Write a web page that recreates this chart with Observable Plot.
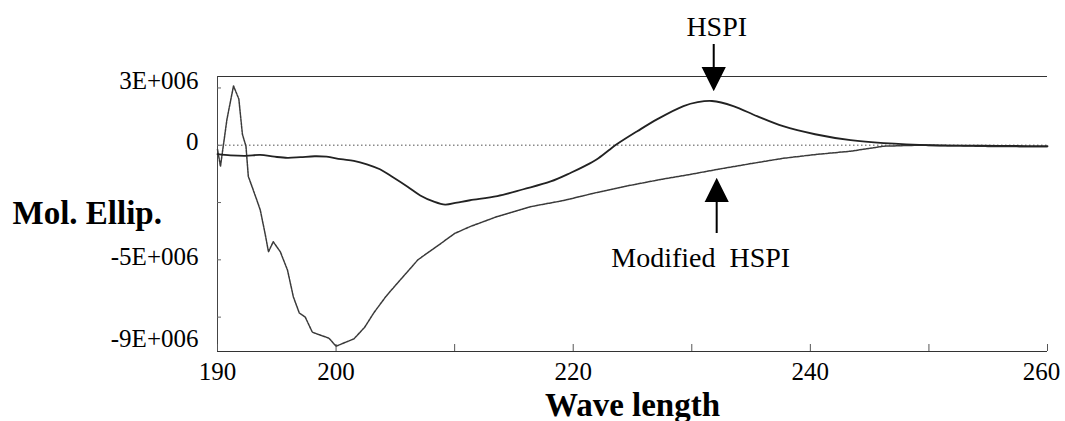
<!DOCTYPE html>
<html><head><meta charset="utf-8">
<script src="https://cdn.jsdelivr.net/npm/d3@7"></script>
<script src="https://cdn.jsdelivr.net/npm/@observablehq/plot@0.6"></script>
<style>body{margin:0;background:#fff;} svg text{white-space:pre;}</style>
</head><body><div id="chart"></div>
<script>
// HSPI (solid curve)
const wlHSPI = [190.0,191.1,192.4,193.6,194.8,195.9,197.0,198.2,199.2,200.4,201.5,202.6,203.7,204.8,206.0,207.1,208.2,209.2,210.2,211.3,213.6,215.8,218.1,219.8,221.0,222.0,223.0,223.7,225.4,227.1,229.3,230.5,231.7,233.5,235.5,237.7,240.4,243.4,246.2,250.4,254.3,257.0,260.0];
const ellipHSPI = [-0.39e6,-0.44e6,-0.46e6,-0.42e6,-0.50e6,-0.55e6,-0.52e6,-0.48e6,-0.50e6,-0.61e6,-0.68e6,-0.83e6,-1.05e6,-1.40e6,-1.80e6,-2.19e6,-2.45e6,-2.59e6,-2.50e6,-2.40e6,-2.22e6,-1.92e6,-1.58e6,-1.20e6,-0.90e6,-0.61e6,-0.22e6,0.05e6,0.61e6,1.14e6,1.71e6,1.88e6,1.93e6,1.71e6,1.27e6,0.83e6,0.48e6,0.22e6,0.09e6,0.0,-0.02e6,-0.03e6,-0.04e6];
// Modified HSPI (dotted curve)
const wlMod = [190.0,190.25,190.8,191.35,191.8,192.1,192.4,192.6,193.0,193.6,194.0,194.3,194.7,195.3,195.9,196.4,196.9,197.4,198.0,198.7,199.4,200.0,200.6,201.5,202.4,203.2,204.2,205.2,206.9,208.8,210.0,211.3,213.6,216.4,219.2,222.0,224.8,227.4,229.8,232.2,235.0,237.7,240.5,243.4,246.2,249.0,252.0,255.0,260.0];
const ellipMod = [-0.18e6,-0.92e6,1.14e6,2.59e6,2.02e6,0.48e6,-0.04e6,-1.36e6,-1.93e6,-2.81e6,-3.82e6,-4.65e6,-4.21e6,-4.65e6,-5.44e6,-6.62e6,-7.32e6,-7.50e6,-8.16e6,-8.29e6,-8.42e6,-8.77e6,-8.64e6,-8.45e6,-7.95e6,-7.30e6,-6.60e6,-6.00e6,-5.00e6,-4.30e6,-3.85e6,-3.55e6,-3.11e6,-2.68e6,-2.41e6,-2.06e6,-1.75e6,-1.49e6,-1.28e6,-1.05e6,-0.80e6,-0.57e6,-0.40e6,-0.26e6,-0.04e6,0.0,-0.02e6,-0.05e6,-0.07e6];

const xTickLabels = [190,200,220,240];
const xTickLast = [260];
const xTicksAll = [190,200,210,220,230,240,250,260];
const yTicksAll = [2.5e6,0,-2.5e6,-5e6,-7.5e6];
const annotWl = [231.85, 232.1];
const annotEllip = [2.45e6, -1.52e6];
const annotText = ["HSPI", "Modified  HSPI"];

const hspi = wlHSPI.map((w,i)=>({w, v: ellipHSPI[i]}));
const mod = wlMod.map((w,i)=>({w, v: ellipMod[i]}));
const annots = annotWl.map((w,i)=>({w, v: annotEllip[i], t: annotText[i]}));

const fmt = d => d === 0 ? "0" : (d < 0 ? "-" : "") + Math.abs(d/1e6) + "E+006";
const serif = "'Liberation Serif', 'Times New Roman', serif";

const arrowShape = {
  draw(context, l) {
    const h = 21, w = 10.5;
    context.moveTo(0, 0);
    context.lineTo(0, -l + h);
    context.moveTo(-w, -l + h);
    context.lineTo(0, -l);
    context.lineTo(w, -l + h);
    context.closePath();
  }
};

const yLabelAxis = (vals, dy) => Plot.axisY({ticks: vals, tickSize: 0, tickPadding: 19, tickFormat: fmt, dy, fontSize: 25, fontFamily: serif, fill: "#000", label: null});

const chart = Plot.plot({
  width: 1065, height: 421,
  marginTop: 76, marginBottom: 70, marginLeft: 217, marginRight: 18,
  style: {background: "#fff", color: "#000", overflow: "visible"},
  x: {domain: [190, 260]},
  y: {domain: [-9e6, 3e6]},
  marks: [
    Plot.ruleY([0], {stroke: "#8a8a8a", strokeWidth: 1.6, strokeDasharray: "1.5,2.5"}),
    Plot.ruleY([3e6], {stroke: "#333", strokeWidth: 1.2}),
    Plot.ruleY([-9e6], {stroke: "#333", strokeWidth: 1.2}),
    Plot.ruleX([190], {stroke: "#444", strokeWidth: 1}),
    Plot.axisX({ticks: xTicksAll, tickSize: -7, tickFormat: () => "", stroke: "#555", label: null}),
    Plot.axisY({ticks: yTicksAll, tickSize: -4, tickFormat: () => "", stroke: "#666", label: null}),
    Plot.axisX({ticks: xTickLabels, tickSize: 0, tickPadding: 11, fontSize: 25, fontFamily: serif, fill: "#000", label: null}),
    Plot.axisX({ticks: xTickLast, tickSize: 0, tickPadding: 11, dx: -6, fontSize: 25, fontFamily: serif, fill: "#000", label: null}),
    yLabelAxis([3e6], 4),
    yLabelAxis([0, -5e6], -3),
    yLabelAxis([-9e6], -13),
    Plot.line(mod, {x: "w", y: "v", stroke: "#3a3a3a", strokeWidth: 1.5, strokeDasharray: "2.5,1"}),
    Plot.line(hspi, {x: "w", y: "v", stroke: "#222", strokeWidth: 1.8, curve: "catmull-rom"}),
    Plot.vector([annots[0]], {x: "w", y: "v", length: 45, rotate: 180, anchor: "end", shape: arrowShape, fill: "#000", stroke: "#000", strokeWidth: 2, strokeLinecap: "butt", strokeLinejoin: "miter"}),
    Plot.vector([annots[1]], {x: "w", y: "v", length: 53, rotate: 0, anchor: "end", shape: arrowShape, fill: "#000", stroke: "#000", strokeWidth: 2, strokeLinecap: "butt", strokeLinejoin: "miter"}),
    Plot.text([annots[0]], {x: "w", y: "v", text: "t", dy: -53, dx: 3, lineAnchor: "bottom", fontSize: 28, fontFamily: serif, fill: "#000"}),
    Plot.text([annots[1]], {x: "w", y: "v", text: "t", dy: 87, dx: -16, lineAnchor: "bottom", fontSize: 28, fontFamily: serif, fill: "#000"}),
    Plot.text(["Mol. Ellip."], {frameAnchor: "left", text: d => d, dx: -205, dy: -1, textAnchor: "start", fontSize: 33, fontWeight: "bold", fontFamily: serif, fill: "#000"}),
    Plot.text(["Wave length"], {frameAnchor: "bottom", text: d => d, dy: 64, lineAnchor: "bottom", fontSize: 33, fontWeight: "bold", fontFamily: serif, fill: "#000"})
  ]
});
document.getElementById("chart").appendChild(chart);
</script>
</body></html>
